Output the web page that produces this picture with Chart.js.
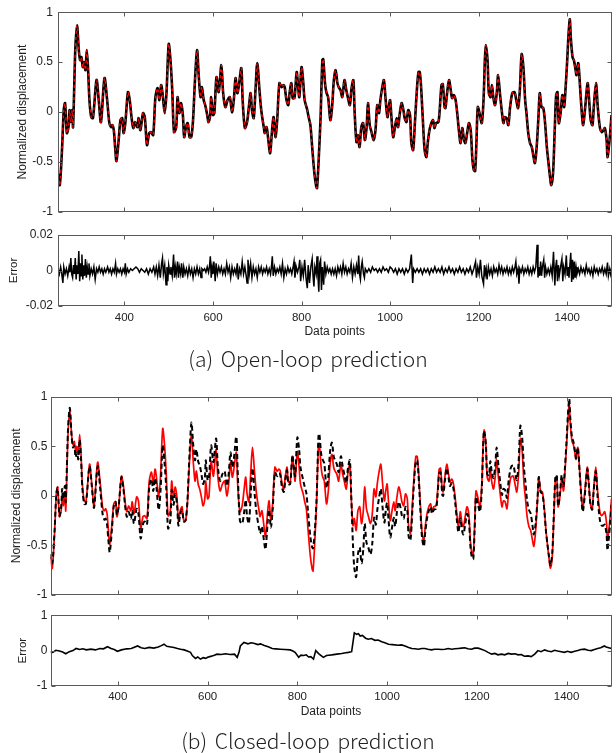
<!DOCTYPE html>
<html>
<head>
<meta charset="utf-8">
<script src="https://cdn.jsdelivr.net/npm/chart.js@4.4.1/dist/chart.umd.min.js"></script>
<style>
  body { margin: 0; background: #fff; }
  #wrap { position: relative; width: 616px; height: 753px; overflow: hidden; }
  canvas { position: absolute; left: 0; }
  .cap { position: absolute; left: 0; width: 616px; text-align: center;
         font-family: "Noto Sans CJK KR", "Noto Sans", sans-serif; font-weight: 300;
         font-size: 21px; line-height: 26px; color: #222; word-spacing: 3px; }
</style>
</head>
<body>
<div id="wrap">
  <canvas id="openMain" width="616" height="225" style="top:0px"></canvas>
  <canvas id="openErr" width="616" height="120" style="top:222px"></canvas>
  <div class="cap" style="top:345px">(a) Open-loop prediction</div>
  <canvas id="closedMain" width="616" height="220" style="top:385px"></canvas>
  <canvas id="closedErr" width="616" height="118" style="top:605px"></canvas>
  <div class="cap" style="top:727px">(b) Closed-loop prediction</div>
</div>
<script>
const xTicks = [400, 600, 800, 1000, 1200, 1400];

// measured displacement (same curve in both panels)
const actualX = [250,254,259,263,266,270,274,276,279,282,284,289,293,297,300,303,306,309,312,315,318,321,325,329,337,342,347,355,361,366,370,373,376,379,382,387,391,395,398,402,408,412,416,420,424,429,432,436,442,446,451,456,460,465,470,475,479,483,486,491,495,500,504,508,512,517,520,524,528,532,535,539,543,547,551,555,559,564,568,572,575,579,583,587,590,594,596,600,603,608,613,619,623,628,633,638,643,647,651,655,658,664,667,672,677,681,685,688,692,696,700,705,709,715,717,721,725,729,734,737,741,745,750,755,759,762,766,770,773,777,780,784,789,792,795,800,804,807,813,816,820,824,829,833,835,839,843,847,849,853,856,860,865,869,873,877,881,884,888,892,897,901,905,909,913,917,920,924,927,931,935,939,943,947,950,954,958,963,967,971,975,978,982,986,990,994,997,1000,1003,1007,1011,1015,1018,1022,1026,1030,1033,1037,1041,1045,1048,1052,1056,1060,1064,1067,1070,1074,1078,1082,1085,1089,1093,1097,1100,1104,1109,1112,1116,1119,1123,1125,1129,1133,1137,1140,1144,1148,1152,1156,1159,1163,1167,1170,1174,1178,1182,1186,1189,1192,1195,1198,1202,1207,1211,1214,1216,1220,1223,1227,1230,1233,1237,1241,1244,1248,1252,1256,1259,1263,1267,1271,1276,1281,1285,1289,1293,1297,1301,1305,1308,1312,1316,1320,1324,1327,1331,1335,1338,1342,1346,1350,1354,1357,1361,1364,1368,1372,1375,1378,1381,1385,1389,1393,1396,1400,1403,1406,1408,1412,1415,1419,1421,1425,1429,1433,1436,1440,1446,1449,1453,1457,1460,1465,1469,1474,1478,1482,1485,1489,1491,1494,1497,1500];
const actualY = [-0.62,-0.73,-0.38,0.02,0.09,-0.21,-0.14,0.02,-0.10,0.02,-0.15,0.62,0.87,0.62,0.52,0.55,0.45,0.50,0.42,0.62,0.42,0.12,-0.05,-0.06,0.32,0.12,-0.10,0.34,0.12,-0.11,-0.15,-0.13,-0.18,-0.35,-0.49,-0.28,-0.08,-0.06,-0.21,-0.11,0.20,0.12,-0.05,-0.16,-0.10,-0.15,-0.06,-0.18,-0.01,-0.05,-0.33,-0.21,-0.20,-0.23,0.15,0.24,0.12,0.27,0.19,-0.01,0.19,0.68,0.52,0.22,-0.20,-0.15,0.15,-0.01,0.09,-0.03,-0.25,-0.15,-0.11,-0.25,-0.25,-0.08,0.29,0.62,0.35,0.15,0.25,0.12,0.06,-0.03,-0.10,-0.02,0.15,-0.03,-0.01,0.35,0.20,0.47,0.19,0.05,0.12,0.15,0.00,0.12,0.34,0.19,0.25,0.44,0.12,-0.16,-0.10,0.05,0.19,0.02,-0.06,0.22,0.49,0.22,0.02,-0.16,-0.21,-0.15,-0.28,-0.41,-0.15,-0.05,-0.25,-0.08,0.29,0.25,0.27,0.25,0.12,0.07,0.19,0.29,0.14,0.14,0.40,0.27,0.15,0.45,0.29,0.12,0.02,-0.05,-0.13,-0.35,-0.61,-0.74,-0.76,-0.45,-0.05,0.52,0.53,0.29,0.20,0.15,-0.08,0.05,0.32,0.42,0.29,0.25,0.22,0.15,0.32,0.22,0.14,0.07,0.24,0.32,-0.01,-0.30,-0.23,-0.35,-0.15,-0.11,-0.28,-0.15,0.09,-0.13,-0.20,-0.28,-0.18,0.07,-0.01,0.12,0.24,0.32,0.12,-0.05,0.05,0.12,-0.05,-0.25,-0.15,-0.06,-0.15,-0.01,0.09,0.02,-0.06,-0.10,0.02,-0.03,-0.31,-0.38,-0.11,0.19,0.40,0.40,0.25,-0.08,-0.38,-0.45,-0.31,-0.18,-0.11,-0.08,-0.16,-0.11,-0.10,0.02,0.27,0.28,0.05,0.04,0.20,0.32,0.22,0.14,0.17,0.12,-0.03,-0.21,-0.31,-0.16,-0.28,-0.31,-0.21,-0.11,-0.18,-0.48,-0.58,-0.59,-0.30,0.05,-0.01,-0.11,0.12,0.52,0.67,0.52,0.19,0.15,0.27,0.15,0.07,0.20,0.37,0.19,0.02,-0.11,-0.05,-0.06,-0.13,0.05,0.19,0.20,0.12,0.04,0.22,0.58,0.45,0.12,-0.01,-0.21,-0.31,-0.35,-0.45,-0.51,-0.35,-0.05,0.19,0.05,0.04,-0.11,-0.35,-0.48,-0.64,-0.73,-0.61,-0.15,0.17,0.20,-0.11,-0.01,0.17,0.05,0.22,0.52,0.78,0.93,0.75,0.55,0.52,0.42,0.37,0.49,0.25,-0.01,-0.13,0.02,0.29,0.15,-0.08,-0.13,0.05,0.29,0.05,-0.16,-0.20,-0.18,-0.16,-0.28,-0.45,-0.35,-0.21,-0.03];

// closed-loop prediction, at the same data points as actualX
const closedY = [-0.59,-0.68,-0.36,0.02,0.08,-0.20,-0.10,0.07,-0.03,0.10,-0.06,0.67,0.89,0.61,0.49,0.51,0.39,0.44,0.37,0.57,0.38,0.08,-0.08,-0.08,0.30,0.10,-0.12,0.30,0.06,-0.18,-0.24,-0.23,-0.29,-0.45,-0.57,-0.33,-0.10,-0.06,-0.19,-0.10,0.19,0.09,-0.09,-0.21,-0.16,-0.23,-0.15,-0.28,-0.13,-0.18,-0.43,-0.29,-0.26,-0.29,0.09,0.17,0.05,0.18,0.09,-0.14,0.04,0.51,0.34,0.07,-0.33,-0.25,0.06,-0.09,0.02,-0.09,-0.30,-0.19,-0.14,-0.26,-0.25,-0.06,0.35,0.74,0.52,0.36,0.47,0.35,0.30,0.20,0.12,0.19,0.36,0.16,0.17,0.51,0.34,0.58,0.29,0.15,0.22,0.25,0.10,0.22,0.44,0.29,0.35,0.60,0.26,-0.25,-0.28,-0.18,-0.04,-0.21,-0.28,0.00,0.28,0.01,-0.17,-0.34,-0.38,-0.31,-0.43,-0.54,-0.26,-0.14,-0.32,-0.14,0.24,0.20,0.23,0.21,0.08,0.04,0.16,0.26,0.12,0.12,0.41,0.30,0.20,0.59,0.47,0.29,0.16,0.10,0.03,-0.17,-0.41,-0.52,-0.53,-0.35,-0.02,0.60,0.63,0.43,0.37,0.33,0.08,0.20,0.45,0.54,0.40,0.36,0.32,0.24,0.40,0.30,0.21,0.13,0.29,0.36,0.02,-0.50,-0.73,-0.82,-0.59,-0.52,-0.68,-0.54,-0.28,-0.47,-0.52,-0.59,-0.48,-0.22,-0.29,-0.15,-0.02,0.07,-0.12,-0.27,-0.15,-0.07,-0.23,-0.42,-0.32,-0.22,-0.31,-0.16,-0.06,-0.12,-0.20,-0.23,-0.11,-0.14,-0.41,-0.45,-0.17,0.14,0.35,0.36,0.21,-0.13,-0.43,-0.51,-0.37,-0.23,-0.15,-0.11,-0.18,-0.14,-0.13,-0.02,0.23,0.24,0.01,0.00,0.16,0.28,0.18,0.10,0.13,0.07,-0.08,-0.27,-0.37,-0.23,-0.35,-0.39,-0.29,-0.18,-0.24,-0.53,-0.62,-0.64,-0.35,-0.01,-0.08,-0.16,0.08,0.50,0.66,0.53,0.22,0.21,0.35,0.25,0.18,0.31,0.49,0.31,0.14,0.01,0.07,0.06,-0.02,0.16,0.29,0.31,0.23,0.16,0.34,0.71,0.59,0.28,0.15,-0.05,-0.14,-0.18,-0.30,-0.39,-0.28,-0.04,0.19,0.04,0.02,-0.13,-0.36,-0.48,-0.62,-0.70,-0.58,-0.13,0.19,0.21,-0.10,0.01,0.21,0.10,0.27,0.57,0.83,0.98,0.80,0.59,0.55,0.44,0.38,0.49,0.24,-0.03,-0.16,-0.02,0.27,0.14,-0.08,-0.14,0.03,0.25,-0.01,-0.24,-0.30,-0.30,-0.29,-0.39,-0.55,-0.43,-0.28,-0.09];

// open-loop prediction error
const openErrX = [250,253,256,258,261,263,266,269,272,275,277,279,281,283,285,287,289,291,293,295,297,299,301,302,304,306,308,310,312,314,316,318,320,322,325,328,331,334,337,340,343,346,349,352,355,358,362,365,368,371,374,377,380,382,385,388,391,394,397,400,402,404,407,410,414,418,422,426,430,434,438,442,446,450,454,458,462,466,469,472,475,478,481,484,486,488,491,494,496,498,500,503,505,508,511,513,515,517,520,522,524,527,529,532,534,537,540,543,546,549,552,555,558,561,564,567,570,573,575,578,581,584,587,590,592,594,596,598,600,602,605,607,610,613,616,619,622,625,628,631,634,637,640,643,646,649,652,655,657,660,663,666,669,672,675,677,679,682,685,688,691,694,697,700,703,706,709,712,715,718,721,724,727,730,732,734,736,739,742,745,748,751,754,757,760,763,766,769,772,775,778,781,783,785,788,791,794,796,798,801,804,807,810,813,815,818,821,824,826,828,830,833,835,837,839,841,843,845,847,850,852,855,858,861,864,867,870,873,876,879,882,885,888,891,894,897,900,903,906,909,912,915,918,921,924,927,929,931,933,935,937,940,942,944,948,952,956,960,964,968,972,976,980,984,988,992,996,1000,1004,1008,1012,1016,1020,1024,1028,1032,1036,1040,1044,1048,1050,1051,1053,1057,1061,1065,1069,1073,1077,1081,1085,1089,1093,1097,1101,1105,1109,1113,1117,1121,1125,1129,1133,1137,1141,1145,1149,1153,1157,1161,1165,1169,1173,1177,1181,1185,1189,1193,1195,1198,1201,1204,1207,1211,1213,1215,1217,1219,1222,1225,1228,1231,1234,1237,1240,1243,1246,1249,1252,1255,1258,1261,1264,1267,1270,1273,1276,1279,1282,1284,1286,1289,1291,1293,1296,1299,1302,1305,1308,1311,1314,1317,1320,1323,1326,1329,1332,1334,1336,1338,1340,1342,1344,1347,1349,1351,1354,1357,1360,1363,1366,1369,1372,1374,1376,1378,1380,1382,1385,1388,1390,1392,1395,1398,1400,1402,1404,1406,1408,1410,1412,1414,1416,1418,1420,1422,1425,1428,1431,1434,1437,1440,1443,1446,1449,1452,1455,1458,1461,1464,1467,1470,1473,1476,1479,1482,1485,1488,1491,1493,1496,1498,1500];
const openErrY = [0.001,-0.002,0.002,-0.001,-0.007,0.002,-0.002,0.001,-0.003,0.002,-0.001,0.007,-0.002,-0.004,0.003,-0.002,0.007,-0.005,0.003,-0.002,0.011,-0.006,0.004,-0.003,0.009,-0.005,0.003,-0.003,0.0065,-0.004,0.002,-0.002,0.004,-0.003,0.001,-0.002,0.002,-0.005,0.001,-0.001,0.002,-0.001,0.001,-0.002,0.001,-0.001,0.002,-0.001,0.001,-0.002,0.001,-0.001,0.004,-0.002,0.001,-0.001,0.001,-0.002,0.001,-0.001,0.004,-0.002,0.001,-0.001,0.001,0,0.001,0.002,0.001,-0.001,0.001,0,-0.001,0.001,-0.002,0.001,-0.001,0.002,-0.002,0.002,-0.003,0.003,-0.004,0.004,0.007,-0.002,0.003,-0.008,0.002,-0.006,0.003,-0.002,0.002,-0.003,0.009,-0.004,0.002,-0.002,0.005,-0.004,0.002,-0.002,0.004,-0.004,0.002,-0.002,0.001,-0.003,0.002,-0.002,0.001,-0.004,0.001,-0.002,0.002,-0.002,0.001,-0.004,0.001,0,0.001,-0.001,0.002,-0.001,0.002,0.008,-0.004,0.002,-0.002,0.005,-0.006,0.004,-0.002,0.002,-0.001,0.002,-0.002,0.001,-0.002,0.004,-0.001,0.002,-0.004,0.002,-0.002,0.001,-0.002,0.004,-0.005,0.001,-0.002,0.005,-0.002,0.002,-0.003,-0.007,0.006,-0.002,0.004,-0.004,0.002,-0.002,0.001,-0.004,0.002,-0.001,0.002,-0.002,0.001,-0.001,0.002,-0.002,0.001,-0.002,0.002,0.008,-0.003,0.002,-0.002,0.001,-0.001,0.002,-0.002,0.004,-0.004,0.001,-0.002,0.002,-0.001,0.001,-0.002,0.002,0.005,-0.004,0.002,-0.001,0.002,0.006,-0.006,0.002,-0.003,0.006,-0.004,-0.010,0.003,-0.007,0.002,0.0065,-0.003,-0.009,0.002,-0.002,0.008,-0.003,-0.012,0.004,0.006,-0.011,0.002,-0.008,0.005,-0.002,0.002,-0.001,0.001,-0.002,0.001,-0.002,0.001,-0.003,0.002,-0.001,0.002,-0.002,0.004,-0.001,0.002,-0.002,0.001,-0.001,0.004,-0.004,0.002,-0.002,0.003,-0.002,0.0085,-0.002,-0.005,0.002,0.005,-0.002,-0.004,0.001,-0.001,0.001,-0.001,0.002,0,0.001,-0.001,0.001,-0.001,0.002,0,0.001,-0.001,0.002,0.001,-0.001,0.001,-0.002,0.001,-0.001,0.001,-0.002,0.001,-0.001,0.001,0.009,-0.002,-0.007,0.001,-0.001,0.001,-0.001,0.001,-0.002,0.001,-0.001,0.001,-0.002,0.001,-0.001,0.002,-0.001,0.001,-0.001,0.002,-0.002,0.001,-0.001,0.002,-0.001,0.001,-0.002,0.001,-0.001,0.002,-0.001,0.001,-0.002,0.001,-0.001,0.002,-0.002,0.001,0.005,-0.004,0.002,-0.002,0.006,-0.003,-0.0075,0.003,-0.002,0.001,-0.005,0.002,-0.002,0.001,-0.003,0.002,-0.001,0.001,-0.002,0.003,-0.001,0.002,-0.002,0.001,-0.001,0.002,-0.002,0.001,-0.002,0.002,-0.001,0.002,0.005,-0.002,0.001,-0.0075,0.001,-0.001,0.002,-0.002,0.001,-0.001,0.002,-0.002,0.001,-0.002,0.002,-0.001,0.002,0.0145,-0.004,0.002,-0.003,0.005,-0.003,0.002,0.006,-0.004,0.002,-0.002,0.001,-0.002,0.002,-0.003,0.0105,-0.0085,0.002,0.006,-0.006,0.003,-0.003,0.002,0.0065,-0.006,0.002,-0.002,0.0085,-0.003,0.002,-0.004,0.003,0.010,-0.0065,0.006,-0.005,0.005,-0.004,0.002,-0.002,0.001,-0.002,0.002,-0.001,0.001,-0.002,0.003,-0.001,0.001,-0.002,0.001,-0.003,0.002,-0.001,0.001,-0.002,0.001,-0.001,0.002,-0.002,0.001,-0.002,0.0045,-0.003,0.001,-0.002,0.001];

// closed-loop prediction error
const closedErrX = [250,255,262,270,277,284,292,300,307,315,322,330,340,350,360,368,377,385,392,399,408,420,430,444,452,460,470,480,490,497,503,509,515,525,533,540,548,556,562,566,573,578,584,590,596,600,605,610,615,621,630,640,650,660,666,670,673,681,690,697,703,712,718,725,735,744,752,762,772,784,790,795,803,808,814,820,825,830,836,841,848,853,858,865,870,877,888,899,908,914,921,927,932,936,940,945,952,958,965,973,980,988,995,1003,1012,1025,1032,1040,1048,1055,1062,1070,1077,1084,1091,1099,1106,1114,1121,1129,1136,1144,1151,1159,1166,1173,1180,1188,1195,1203,1210,1218,1225,1233,1240,1247,1255,1262,1270,1277,1285,1292,1299,1306,1314,1321,1329,1336,1343,1351,1358,1366,1373,1380,1388,1395,1402,1410,1418,1425,1432,1440,1448,1455,1462,1469,1476,1484,1488,1492,1500];
const closedErrY = [-0.03,-0.05,0.01,-0.01,-0.04,-0.09,-0.03,0.00,0.06,0.03,0.05,0.02,0.04,0.02,0.06,0.05,0.11,0.06,0.03,-0.02,0.02,0.05,0.06,0.13,0.08,0.06,0.09,0.07,0.10,0.14,0.18,0.12,0.11,0.09,0.06,0.04,0.02,-0.02,-0.05,-0.14,-0.22,-0.18,-0.24,-0.20,-0.22,-0.19,-0.17,-0.15,-0.13,-0.10,-0.11,-0.09,-0.11,-0.10,-0.19,-0.05,0.13,0.23,0.19,0.22,0.21,0.17,0.19,0.15,0.11,0.06,0.05,0.04,0.03,0.02,-0.01,-0.05,-0.19,-0.13,-0.14,-0.12,-0.18,-0.17,-0.24,0.00,-0.09,-0.14,-0.19,-0.14,-0.13,-0.12,-0.10,-0.08,-0.06,-0.05,-0.03,0.50,0.46,0.48,0.41,0.43,0.35,0.32,0.34,0.29,0.30,0.25,0.22,0.18,0.17,0.15,0.16,0.13,0.09,0.06,0.05,0.04,0.06,0.06,0.04,0.02,0.04,0.04,0.03,0.04,0.06,0.04,0.05,0.06,0.07,0.08,0.05,0.04,0.07,0.07,0.04,0.00,-0.05,-0.10,-0.08,-0.12,-0.10,-0.12,-0.08,-0.10,-0.09,-0.12,-0.11,-0.16,-0.15,-0.17,-0.10,0.00,-0.03,0.02,-0.01,-0.03,0.01,-0.01,-0.03,-0.05,-0.02,-0.05,-0.02,0.00,0.03,0.04,0.01,0.00,0.03,0.06,0.08,0.13,0.10,0.09,0.06];

const FONT = "'Liberation Sans', Arial, sans-serif";
const xy = (xs, ys) => xs.map((x, i) => ({ x: x, y: ys[i] }));

// box round the plot and MATLAB-style inward ticks
const framePlugin = {
    id: "frame",
    afterDatasetsDraw(chart) {
        const { ctx, chartArea: a, scales } = chart;
        const l = Math.round(a.left) + 0.5, r = Math.round(a.right) - 0.5;
        const t = Math.round(a.top) + 0.5, b = Math.round(a.bottom) - 0.5;
        ctx.save();
        ctx.strokeStyle = "#5a5a5a";
        ctx.lineWidth = 1;
        ctx.strokeRect(l, t, r - l, b - t);
        ctx.beginPath();
        scales.x.ticks.forEach(tk => {
            const px = Math.round(scales.x.getPixelForValue(tk.value)) + 0.5;
            ctx.moveTo(px, b); ctx.lineTo(px, b - 4);
            ctx.moveTo(px, t); ctx.lineTo(px, t + 4);
        });
        scales.y.ticks.forEach(tk => {
            const py = Math.round(scales.y.getPixelForValue(tk.value)) + 0.5;
            ctx.moveTo(l, py); ctx.lineTo(l + 4, py);
            ctx.moveTo(r, py); ctx.lineTo(r - 4, py);
        });
        ctx.stroke();
        ctx.restore();
    }
};

function makePanel(id, o) {
    return new Chart(document.getElementById(id), {
        type: "line",
        data: { datasets: o.datasets },
        options: {
            responsive: false,
            animation: false,
            devicePixelRatio: 1,
            layout: { padding: { top: o.top, right: 616 - o.right, left: 0, bottom: 0 } },
            plugins: { legend: { display: false }, tooltip: { enabled: false } },
            elements: { point: { radius: 0 } },
            scales: {
                x: {
                    type: "linear", min: 250, max: 1500,
                    grid: { display: false, drawTicks: false, tickLength: 0 }, border: { display: false },
                    ticks: { display: o.xLabels, padding: o.xTickPad, color: "#222",
                             font: { family: FONT, size: 11.5 }, callback: v => String(v) },
                    title: { display: o.xLabels, text: "Data points", color: "#222",
                             font: { family: FONT, size: 12 }, padding: { top: 0, bottom: o.xTitlePad } },
                    afterBuildTicks: s => { s.ticks = xTicks.map(v => ({ value: v })); },
                    afterFit: s => { s.height = o.xAxisH; }
                },
                y: {
                    min: o.yMin, max: o.yMax,
                    grid: { display: false, drawTicks: false, tickLength: 0 }, border: { display: false },
                    ticks: { padding: o.tickPad, color: "#222", font: { family: FONT, size: 12 },
                             callback: v => String(v) },
                    title: { display: true, text: o.yTitle, color: "#222",
                             font: { family: FONT, size: o.yTitleSize }, padding: { top: o.yTitlePad, bottom: 0 } },
                    afterBuildTicks: s => { s.ticks = o.yTicks.map(v => ({ value: v })); },
                    afterFit: s => { s.width = o.left; }
                }
            }
        },
        plugins: [framePlugin]
    });
}

// (a) open-loop
makePanel("openMain", {
    datasets: [
        { data: xy(actualX, actualY), borderColor: "#ff0000", borderWidth: 1.4, borderDash: [3, 3], tension: 0.3 },
        { data: xy(actualX, actualY), borderColor: "#000", borderWidth: 2.6, tension: 0.3 }
    ],
    yMin: -1, yMax: 1, yTicks: [-1, -0.5, 0, 0.5, 1],
    yTitle: "Normalized displacement", yTitleSize: 12, yTitlePad: 15,
    left: 58, right: 611.5, top: 12, xAxisH: 13, xLabels: false, tickPad: 5
});
makePanel("openErr", {
    datasets: [
        { data: xy(openErrX, openErrY), borderColor: "#000", borderWidth: 1.5, tension: 0 }
    ],
    yMin: -0.02, yMax: 0.02, yTicks: [-0.02, 0, 0.02],
    yTitle: "Error", yTitleSize: 11.5, yTitlePad: 7,
    left: 58, right: 611.5, top: 13, xAxisH: 36, xLabels: true, tickPad: 5, xTickPad: 5, xTitlePad: 3
});

// (b) closed-loop
makePanel("closedMain", {
    datasets: [
        { data: xy(actualX, closedY), borderColor: "#000", borderWidth: 2, borderDash: [5, 3], tension: 0.3 },
        { data: xy(actualX, actualY), borderColor: "#ff0000", borderWidth: 1.7, tension: 0.3 }
    ],
    yMin: -1, yMax: 1, yTicks: [-1, -0.5, 0, 0.5, 1],
    yTitle: "Normalized displacement", yTitleSize: 12, yTitlePad: 9,
    left: 50.5, right: 611.5, top: 12, xAxisH: 7, xLabels: false, tickPad: 3
});
makePanel("closedErr", {
    datasets: [
        { data: xy(closedErrX, closedErrY), borderColor: "#000", borderWidth: 1.6, tension: 0 }
    ],
    yMin: -1, yMax: 1, yTicks: [-1, 0, 1],
    yTitle: "Error", yTitleSize: 11.5, yTitlePad: 16,
    left: 50.5, right: 611.5, top: 9, xAxisH: 37, xLabels: true, tickPad: 3, xTickPad: 4, xTitlePad: 4
});
</script>
</body>
</html>
